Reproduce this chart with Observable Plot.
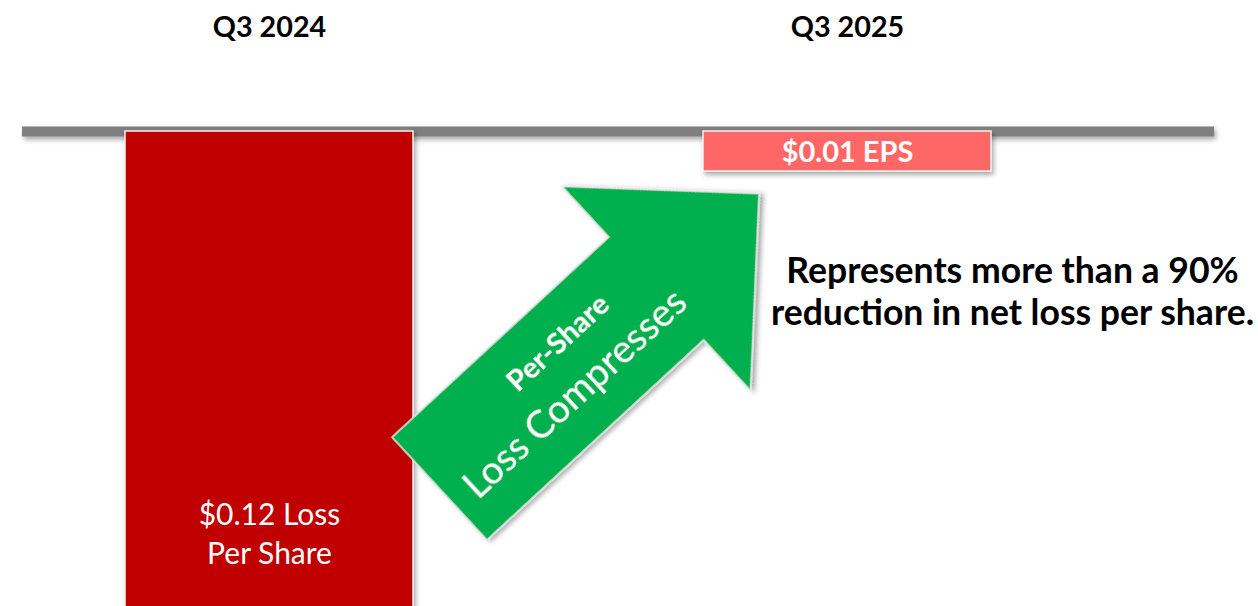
<!DOCTYPE html>
<html>
<head>
<meta charset="utf-8">
<script src="https://cdn.jsdelivr.net/npm/d3@7"></script>
<script src="https://cdn.jsdelivr.net/npm/@observablehq/plot@0.6"></script>
<style>
  html, body { margin: 0; padding: 0; background: #ffffff; }
  #chart svg { display: block; }
</style>
</head>
<body>
<div id="chart"></div>
<script>
// ---- data ----
const categories = ["Q3 2024", "Q3 2025"];
const epsValues = [-0.12, -0.01];
const barColors = ["#C00000", "#FF6666"];
const lossLabel = ["$0.12 Loss\nPer Share"];
const epsLabel = ["$0.01 EPS"];
const noteText = ["Represents more than a 90%\nreduction in net loss per share."];
const arrowLines = ["Per-Share", "Loss Compresses"];

const bars = categories.map((c, i) => ({cat: c, value: epsValues[i], color: barColors[i]}));

// ---- arrow annotation (render function, anchored to the scales) ----
function arrowMark(index, scales) {
  const xs = scales.x, ys = scales.y;
  const step = xs(categories[1]) - xs(categories[0]);
  const cx = xs(categories[0]) + 0.544 * step;
  const cy = ys(-0.0894);
  const g = d3.create("svg:g")
    .attr("transform", `translate(${cx},${cy}) rotate(-42.7)`)
    .attr("filter", "url(#softShadow)");
  const L = 435, hb = 295, sw = 70, hw = 139;
  g.append("polygon")
    .attr("points", [[0,-sw],[hb,-sw],[hb,-hw],[L,0],[hb,hw],[hb,sw],[0,sw]].map(p => p.join(",")).join(" "))
    .attr("fill", "#00B050")
    .attr("stroke", "#E6E6E6")
    .attr("stroke-width", 1.5);
  g.append("text")
    .attr("x", 186).attr("y", -27).attr("dy", "0.35em")
    .attr("text-anchor", "middle")
    .attr("fill", "white").attr("font-weight", "bold").attr("font-size", 29)
    .text(arrowLines[0]);
  g.append("text")
    .attr("x", 164).attr("y", 22).attr("dy", "0.35em")
    .attr("text-anchor", "middle")
    .attr("fill", "white").attr("font-size", 38.5)
    .text(arrowLines[1]);
  return g.node();
}

const chart = Plot.plot({
  width: 1258,
  height: 606,
  marginTop: 131,
  marginBottom: 0,
  marginLeft: 0,
  marginRight: 0,
  style: {fontFamily: "Lato, 'Open Sans', sans-serif", background: "#ffffff", overflow: "hidden"},
  x: {type: "band", domain: categories, range: [125, 991], paddingInner: 0.502, paddingOuter: 0, axis: null},
  y: {domain: [-0.11875, 0], axis: null},
  marks: [
    Plot.ruleY([0], {stroke: "#7F7F7F", strokeWidth: 10, insetLeft: 22, insetRight: 44}),
    Plot.barY(bars, {x: "cat", y: "value", fill: "color", stroke: "#F2F2F2", strokeWidth: 1.5}),
    Plot.text(categories, {x: d => d, y: () => 0, dy: -104, fontSize: 28.7, fontWeight: "bold", fill: "black"}),
    Plot.text(lossLabel, {x: () => categories[0], y: () => epsValues[0], dy: -79, fontSize: 30, lineHeight: 1.3, fill: "white", textAnchor: "middle"}),
    Plot.text(epsLabel, {x: () => categories[1], y: () => epsValues[1] / 2, dy: 1.5, fontSize: 29, fontWeight: "bold", fill: "white", textAnchor: "middle"}),
    Plot.text(noteText, {x: () => categories[1], y: () => 0, dx: 165, dy: 159, fontSize: 35.6, lineHeight: 1.18, fontWeight: "bold", fill: "black", textAnchor: "middle"}),
    arrowMark
  ]
});

const defs = d3.select(chart).insert("defs", ":first-child");
const f = defs.append("filter").attr("id", "softShadow")
  .attr("filterUnits", "userSpaceOnUse")
  .attr("x", -200).attr("y", -200).attr("width", 1800).attr("height", 1000);
f.append("feDropShadow").attr("dx", 2).attr("dy", 3).attr("stdDeviation", 2.5).attr("flood-color", "#000").attr("flood-opacity", 0.35);
d3.select(chart).selectAll('g[aria-label="rule"], g[aria-label="bar"]').attr("filter", "url(#softShadow)");

document.getElementById("chart").appendChild(chart);
</script>
</body>
</html>
